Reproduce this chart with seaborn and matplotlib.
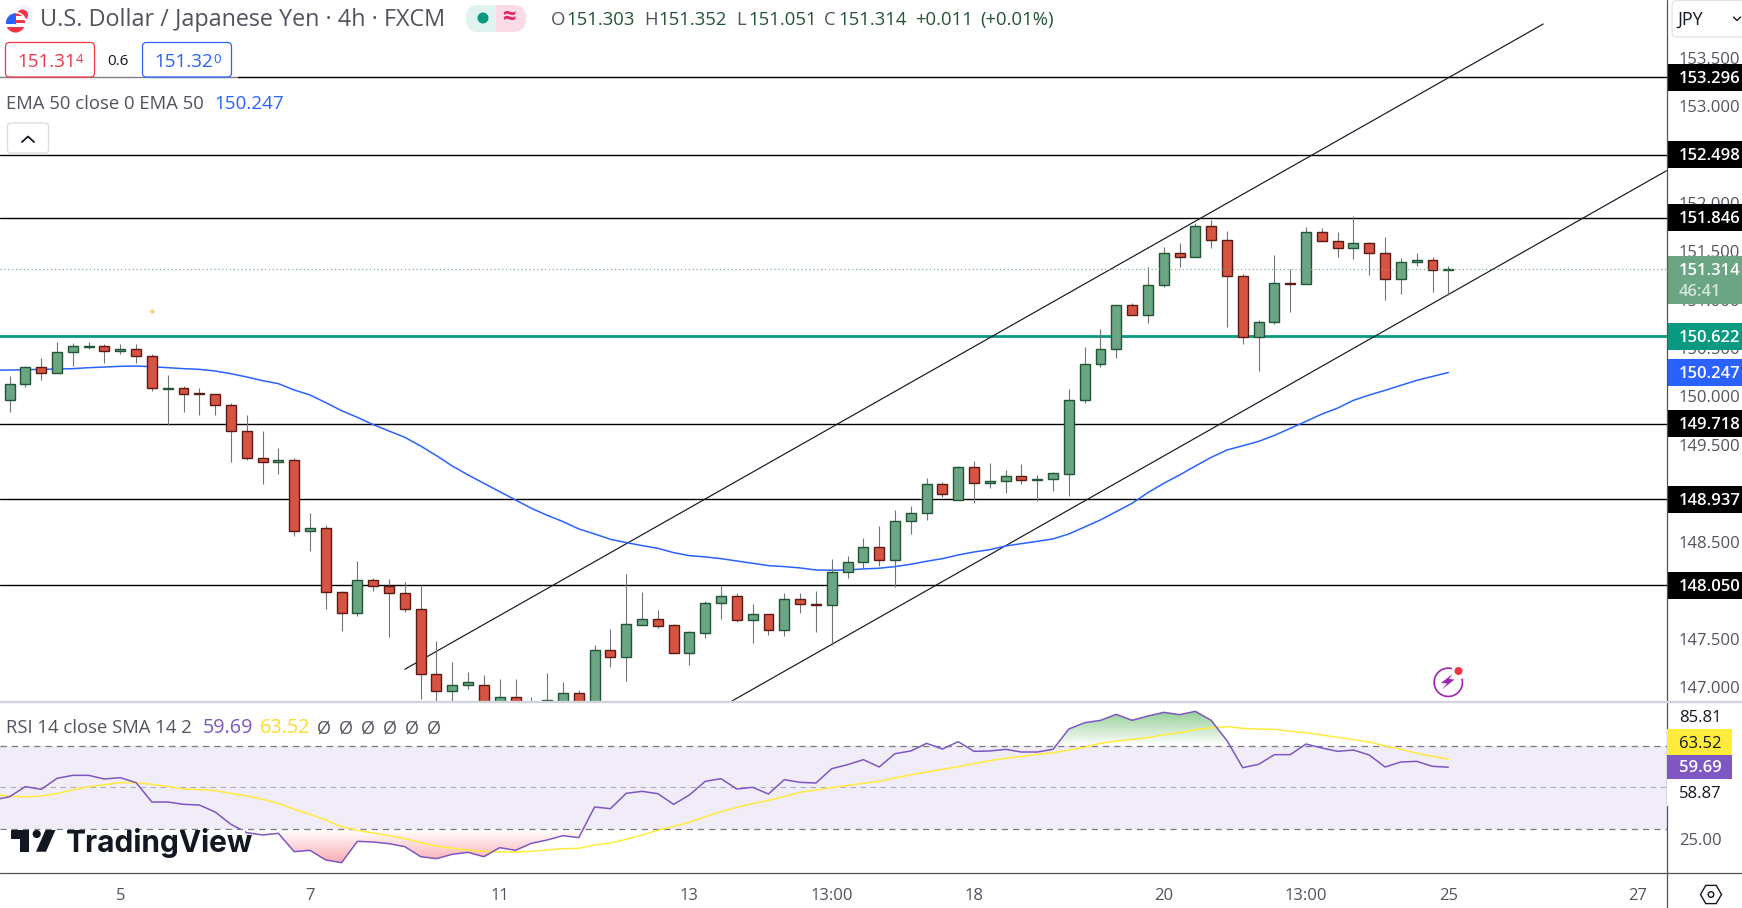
import numpy as np
import pandas as pd
import seaborn as sns
from matplotlib import pyplot as plt
from matplotlib.lines import Line2D
from matplotlib.patches import Circle, FancyBboxPatch, Polygon, Rectangle, RegularPolygon, Wedge
from matplotlib.path import Path
from matplotlib.ticker import FormatStrFormatter
from matplotlib.transforms import Affine2D

# candles, one entry per bar
OPEN = [149.960, 150.125, 150.301, 150.239, 150.455, 150.511, 150.517, 150.466, 150.486, 150.414,
        150.080, 150.084, 150.032, 150.022, 149.909, 149.640, 149.362, 149.320, 149.341, 148.608,
        148.639, 147.978, 147.761, 148.102, 148.040, 147.967, 147.802, 147.131, 146.955, 147.017,
        147.017, 146.763, 146.893, 146.814, 146.763, 146.763, 146.935, 146.763, 147.379, 147.313,
        147.644, 147.699, 147.637, 147.355, 147.561, 147.864, 147.936, 147.695, 147.751, 147.585,
        147.905, 147.854, 147.844, 148.184, 148.288, 148.442, 148.308, 148.711, 148.794, 149.093,
        148.928, 149.269, 149.103, 149.124, 149.176, 149.141, 149.145, 149.202, 149.960, 150.331,
        150.486, 150.941, 150.837, 151.147, 151.478, 151.443, 151.757, 151.612, 151.240, 150.610,
        150.765, 151.171, 151.158, 151.695, 151.602, 151.529, 151.581, 151.478, 151.209, 151.385,
        151.405, 151.303]
HIGH = [150.211, 150.314, 150.393, 150.562, 150.548, 150.562, 150.538, 150.538, 150.538, 150.435,
        150.221, 150.108, 150.087, 150.022, 149.930, 149.809, 149.644, 149.465, 149.362, 148.794,
        148.670, 147.992, 148.298, 148.122, 148.115, 148.081, 148.050, 147.472, 147.258, 147.155,
        147.121, 147.079, 147.079, 146.893, 147.145, 147.052, 146.966, 147.430, 147.599, 148.167,
        147.981, 147.795, 147.651, 147.578, 147.885, 148.047, 147.967, 147.857, 147.751, 147.971,
        147.971, 147.992, 148.319, 148.353, 148.539, 148.663, 148.828, 148.866, 149.155, 149.117,
        149.279, 149.331, 149.313, 149.241, 149.303, 149.189, 149.217, 150.073, 150.510, 150.696,
        150.941, 150.961, 151.333, 151.543, 151.584, 151.788, 151.822, 151.708, 151.261, 150.789,
        151.460, 151.312, 151.750, 151.739, 151.698, 151.863, 151.595, 151.646, 151.426, 151.478,
        151.436, 151.352]
LOW = [149.839, 150.101, 150.170, 150.239, 150.314, 150.486, 150.345, 150.442, 150.345, 150.060,
       149.705, 149.839, 149.808, 149.808, 149.327, 149.341, 149.100, 149.203, 148.563, 148.408,
       147.806, 147.582, 147.737, 147.995, 147.520, 147.775, 146.880, 146.763, 146.763, 146.983,
       146.763, 146.694, 146.694, 146.694, 146.694, 146.694, 146.694, 146.694, 147.210, 147.066,
       147.644, 147.613, 147.355, 147.227, 147.503, 147.702, 147.671, 147.458, 147.537, 147.527,
       147.768, 147.568, 147.430, 148.129, 148.229, 148.250, 148.036, 148.580, 148.725, 148.962,
       148.928, 148.904, 149.055, 149.007, 149.100, 148.924, 149.028, 148.975, 149.936, 150.307,
       150.400, 150.837, 150.762, 151.133, 151.333, 151.443, 151.536, 150.720, 150.545, 150.266,
       150.751, 150.875, 151.158, 151.602, 151.443, 151.423, 151.257, 150.999, 151.061, 151.350,
       151.082, 151.051]
CLOSE = [150.125, 150.301, 150.239, 150.455, 150.517, 150.517, 150.466, 150.486, 150.414, 150.084,
         150.087, 150.029, 150.025, 149.908, 149.640, 149.362, 149.320, 149.341, 148.608, 148.639,
         147.978, 147.761, 148.102, 148.040, 147.967, 147.802, 147.131, 146.955, 147.017, 147.048,
         146.831, 146.893, 146.763, 146.780, 146.862, 146.935, 146.763, 147.379, 147.313, 147.647,
         147.699, 147.634, 147.355, 147.565, 147.864, 147.936, 147.695, 147.751, 147.585, 147.905,
         147.854, 147.844, 148.184, 148.288, 148.442, 148.308, 148.711, 148.794, 149.093, 148.990,
         149.269, 149.103, 149.124, 149.176, 149.134, 149.145, 149.207, 149.960, 150.331, 150.486,
         150.941, 150.837, 151.147, 151.478, 151.443, 151.757, 151.612, 151.240, 150.610, 150.765,
         151.168, 151.164, 151.695, 151.602, 151.529, 151.581, 151.478, 151.209, 151.385, 151.405,
         151.302, 151.314]

# first entry of the three lines sits one bar left of the first candle
LINE_BARS = list(range(-1, 92))
EMA = [150.270, 150.273, 150.276, 150.280, 150.283, 150.287, 150.297, 150.304, 150.311, 150.314,
       150.307, 150.297, 150.287, 150.280, 150.263, 150.235, 150.201, 150.163, 150.132, 150.067,
       150.015, 149.936, 149.853, 149.784, 149.709, 149.643, 149.578, 149.488, 149.389, 149.282,
       149.189, 149.103, 149.017, 148.931, 148.845, 148.773, 148.708, 148.632, 148.580, 148.525,
       148.491, 148.460, 148.432, 148.387, 148.356, 148.343, 148.325, 148.301, 148.277, 148.253,
       148.243, 148.229, 148.208, 148.205, 148.208, 148.219, 148.226, 148.243, 148.267, 148.298,
       148.325, 148.363, 148.394, 148.418, 148.456, 148.480, 148.504, 148.529, 148.580, 148.652,
       148.725, 148.811, 148.897, 149.007, 149.103, 149.189, 149.281, 149.371, 149.447, 149.491,
       149.536, 149.598, 149.670, 149.743, 149.818, 149.880, 149.960, 150.015, 150.063, 150.115,
       150.166, 150.207, 150.247]
RSI = [43.88, 45.49, 50.31, 49.02, 54.32, 55.77, 55.77, 54.00, 54.65, 52.24,
       42.92, 42.92, 41.79, 41.47, 38.10, 32.16, 28.14, 27.01, 27.82, 18.98,
       19.63, 14.97, 13.68, 23.96, 23.64, 22.84, 21.39, 16.57, 15.61, 17.70,
       18.66, 16.57, 20.91, 19.63, 23.00, 24.61, 26.69, 25.73, 40.51, 39.71,
       47.09, 48.06, 46.93, 41.79, 46.29, 52.88, 54.16, 49.18, 49.99, 46.77,
       53.68, 52.40, 52.07, 58.98, 60.91, 63.32, 59.79, 66.21, 67.50, 71.19,
       68.46, 71.99, 67.33, 67.50, 68.30, 67.01, 67.01, 68.30, 78.09, 81.15,
       82.27, 85.16, 82.27, 84.36, 86.13, 85.00, 86.61, 82.27, 72.47, 59.46,
       61.07, 65.73, 65.73, 70.87, 68.94, 67.33, 67.97, 65.57, 59.78, 62.19,
       62.51, 60.10, 59.69]
RSI_SMA = [46.45, 45.81, 45.33, 45.81, 47.09, 48.70, 50.31, 51.27, 52.24, 52.24,
           51.43, 50.47, 49.18, 48.86, 48.38, 47.09, 45.81, 44.20, 42.28, 39.38,
           36.97, 34.24, 31.03, 29.26, 27.98, 26.69, 25.25, 23.32, 21.71, 20.59,
           19.79, 19.14, 18.82, 18.82, 19.14, 19.79, 20.43, 20.59, 22.20, 23.16,
           24.93, 27.01, 29.26, 31.19, 33.12, 35.85, 38.26, 40.35, 42.12, 43.72,
           45.49, 47.58, 48.70, 49.83, 50.95, 51.91, 52.88, 54.48, 56.09, 57.38,
           58.66, 59.95, 61.39, 62.84, 63.96, 64.92, 65.89, 66.69, 67.97, 69.26,
           71.19, 72.31, 73.12, 73.92, 75.36, 76.33, 77.77, 78.74, 79.22, 78.42,
           78.09, 77.93, 76.97, 76.33, 75.20, 74.08, 72.95, 71.83, 69.90, 68.30,
           66.37, 64.92, 63.52]

LEVELS = [153.296, 152.498, 151.846, 149.718, 148.937, 148.050]
SUPPORT = 150.622
LAST = 151.314
EMA_LAST = 150.247
CHANNEL_TOP_X = [25.0, 97.0]
CHANNEL_TOP_Y = [147.183, 153.846]
CHANNEL_LOW_X = [45.69, 104.8]
CHANNEL_LOW_Y = [146.855, 152.331]
# scale steps that the black level tags do not hide
PRICE_TICKS = [147.0, 147.5, 148.5, 149.5, 150.0, 150.5, 151.0, 151.5, 152.0, 153.0, 153.5]
TICK_BARS = [7, 19, 31, 43, 52, 61, 73, 82, 91, 103]
TICK_LABELS = ["5", "7", "11", "13", "13:00", "18", "20", "13:00", "25", "27"]

W, H = 1742, 908
UP, UP_EDGE = "#6ba583", "#225437"
DOWN, DOWN_EDGE = "#d75442", "#5b1a13"
WICK = "#737375"
BLUE = "#2962ff"
TEAL = "#089981"
PURPLE = "#7e57c2"
YELLOW = "#ffeb3b"
GREY = "#50535e"
FONT = ["Open Sans", "DejaVu Sans"]

sns.set_theme(style="white")
plt.rcParams["font.family"] = FONT

fig = plt.figure(figsize=(W / 100, H / 100), dpi=100, facecolor="white")
# pixel coordinates, y counted from the top of the picture
PX = Affine2D().scale(1, -1).translate(0, H)


def pane(top, bottom):
    return fig.add_axes([0, 1 - bottom / H, 1666.5 / W, (bottom - top) / H])


def label_text(x, y, s, color="#131722", size=12, **kw):
    # open sans sits a little high when centred on its full line box
    fig.text(x, y + 1.8, s, transform=PX, color=color, fontsize=size, va="center", zorder=12, **kw)


def box(x, y, w, h, round_to=0, face="white", edge="none", lw=1, zorder=10, alpha=None):
    style = f"round,pad=0,rounding_size={round_to}" if round_to else "square,pad=0"
    p = FancyBboxPatch((x, y), w, h, boxstyle=style, transform=PX, facecolor=face, edgecolor=edge,
                       linewidth=lw, zorder=zorder, alpha=alpha)
    fig.add_artist(p)
    return p


def fade_fill(ax, x, y, level, peak, rgb, strength, where):
    shade = ax.fill_between(x, y, level, where=where, interpolate=True, facecolor="none", edgecolor="none")
    clip = Path.make_compound_path(*shade.get_paths())
    rgba = np.zeros((64, 1, 4))
    rgba[..., :3] = rgb
    rgba[..., 3] = np.linspace(0, strength, 64)[:, None]
    low, high = sorted([level, peak])
    if peak < level:
        rgba = rgba[::-1]
    img = ax.imshow(rgba, extent=[x[0], x[-1], low, high], origin="lower", aspect="auto", zorder=1.5)
    img.set_clip_path(clip, transform=ax.transData)


ax = pane(0, 701)
frame = pd.DataFrame({"bar": range(len(OPEN)), "open": OPEN, "high": HIGH, "low": LOW, "close": CLOSE})
frame["rising"] = frame["close"] >= frame["open"]
lines = pd.DataFrame({"bar": LINE_BARS, "ema": EMA, "rsi": RSI, "sma": RSI_SMA})

for level in LEVELS:
    ax.axhline(level, color="black", lw=1.0, zorder=1)
ax.axhline(SUPPORT, color=TEAL, lw=2.0, zorder=1)
ax.plot(CHANNEL_TOP_X, CHANNEL_TOP_Y, color="#131722", lw=0.85, zorder=1.2)
ax.plot(CHANNEL_LOW_X, CHANNEL_LOW_Y, color="#131722", lw=0.85, zorder=1.2)
sns.lineplot(data=lines, x="bar", y="ema", ax=ax, color=BLUE, lw=1.1, estimator=None, sort=False, zorder=1.4)

ax.vlines(frame["bar"], frame["low"], frame["high"], color=WICK, lw=0.8, zorder=2)
ax.bar(frame["bar"], (frame["close"] - frame["open"]).abs(), bottom=frame[["open", "close"]].min(axis=1),
       width=0.63, color=[UP if r else DOWN for r in frame["rising"]],
       edgecolor=[UP_EDGE if r else DOWN_EDGE for r in frame["rising"]], linewidth=1.0, zorder=3)
ax.axhline(LAST, color=UP, lw=0.8, ls=(0, (1, 2.5)), zorder=3.5)
ax.plot([9], [150.88], marker="o", ms=2, color="#ffcc66", zorder=3)

ax.set_xlim(-0.607, 104.8)
ax.set_ylim(146.855, 154.094)
ax.set_xlabel("")
ax.set_ylabel("")
ax.xaxis.set_visible(False)
ax.yaxis.tick_right()
ax.set_yticks(PRICE_TICKS)
ax.yaxis.set_major_formatter(FormatStrFormatter("%.3f"))
ax.tick_params(axis="y", length=0, pad=8.8, labelsize=12, labelcolor=GREY)
sns.despine(ax=ax, left=True, bottom=True, right=True, top=True)

# value tags on the price scale
tag_x = ax.get_yaxis_transform()
tag_h = 26.7 / 96.84
text_drop = 1.3 / 96.84
for value, face in [(v, "black") for v in LEVELS] + [(SUPPORT, TEAL), (EMA_LAST, BLUE)]:
    ax.add_patch(Rectangle((1.0, value - tag_h / 2), 76 / 1666.5, tag_h, transform=tag_x, facecolor=face,
                           edgecolor="none", clip_on=False, zorder=5))
    ax.text(1 + 12.2 / 1666.5, value - text_drop, f"{value:.3f}", transform=tag_x, color="white", fontsize=12,
            fontweight="semibold", va="center", clip_on=False, zorder=6)
ax.add_patch(Rectangle((1.0, LAST - 34.4 / 96.84), 76 / 1666.5, 47.7 / 96.84, transform=tag_x, facecolor=UP,
                       edgecolor="none", clip_on=False, zorder=5))
ax.text(1 + 12.2 / 1666.5, LAST - text_drop, f"{LAST:.3f}", transform=tag_x, color="white", fontsize=12,
        fontweight="semibold", va="center", clip_on=False, zorder=6)
ax.text(1 + 12.2 / 1666.5, LAST - 21.4 / 96.84 - text_drop, "46:41", transform=tag_x, color="#d5e5db", fontsize=12,
        fontweight="semibold", va="center", clip_on=False, zorder=6)

rsi_ax = pane(703, 873)
rsi_ax.axhspan(30, 70, color=PURPLE, alpha=0.11, lw=0, zorder=0.5)
rsi_ax.axhline(70, color="#787b86", lw=0.9, ls=(0, (5, 4)), zorder=1)
rsi_ax.axhline(50, color="#787b86", lw=0.8, ls=(0, (5, 4)), alpha=0.55, zorder=1)
rsi_ax.axhline(30, color="#787b86", lw=0.9, ls=(0, (5, 4)), zorder=1)

bars = lines["bar"].to_numpy(dtype=float)
rsi = lines["rsi"].to_numpy()
fade_fill(rsi_ax, bars, rsi, 70, 86.61, (76 / 255, 175 / 255, 80 / 255), 0.6, rsi > 70)
fade_fill(rsi_ax, bars, rsi, 30, 13.68, (242 / 255, 54 / 255, 69 / 255), 0.42, rsi < 30)
sns.lineplot(data=lines, x="bar", y="sma", ax=rsi_ax, color=YELLOW, lw=1.1, estimator=None, sort=False, zorder=2)
sns.lineplot(data=lines, x="bar", y="rsi", ax=rsi_ax, color=PURPLE, lw=1.1, estimator=None, sort=False, zorder=2.2)

rsi_ax.set_xlim(-0.607, 104.8)
rsi_ax.set_ylim(8.70, 90.63)
rsi_ax.set_xlabel("")
rsi_ax.set_ylabel("")
rsi_ax.set_xticks(TICK_BARS)
rsi_ax.set_xticklabels(TICK_LABELS)
rsi_ax.yaxis.tick_right()
rsi_ax.set_yticks([25])
rsi_ax.set_yticklabels(["25.00"])
rsi_ax.tick_params(axis="y", length=0, pad=8.8, labelsize=12, labelcolor=GREY)
rsi_ax.tick_params(axis="x", length=0, pad=11, labelsize=12, labelcolor=GREY)
sns.despine(ax=rsi_ax, left=True, bottom=True, right=True, top=True)

# scale frame and pane separators
fig.add_artist(Line2D([1666.5, 1666.5], [0, H], transform=PX, color=GREY, lw=0.9, zorder=4))
fig.add_artist(Line2D([0, W], [873.3, 873.3], transform=PX, color=GREY, lw=0.9, zorder=4))
fig.add_artist(Line2D([0, W], [701.8, 701.8], transform=PX, color="#d1d4dc", lw=1.7, zorder=4))

# header
box(0, 36, 238, 44, face="white", alpha=0.5, zorder=5)
fig.add_artist(Circle((24, 13.5), 8.8, transform=PX, facecolor="#f0f3fa", edgecolor="none", zorder=10))
fig.add_artist(Circle((22.5, 15), 5.5, transform=PX, facecolor="#f23645", edgecolor="none", zorder=10.1))
fig.add_artist(Circle((15.5, 23), 11.2, transform=PX, facecolor="white", edgecolor="none", zorder=10.2))
us = Circle((15.5, 23), 9.6, transform=PX, facecolor="white", edgecolor="none", zorder=10.3)
fig.add_artist(us)
for rect, color in [((5, 12, 22, 4), "#f23645"), ((5, 20, 22, 3), "#f23645"), ((5, 27, 22, 7), "#f23645"),
                    ((5, 12, 11, 12), BLUE)]:
    stripe = Rectangle(rect[:2], rect[2], rect[3], transform=PX, facecolor=color, edgecolor="none", zorder=10.4)
    fig.add_artist(stripe)
    stripe.set_clip_path(us)

label_text(39.5, 18, "U.S. Dollar / Japanese Yen · 4h · FXCM", color=GREY, size=16.8)
pill = box(466, 5, 60, 27, round_to=13, face="#fbdce6", zorder=10)
pill_left = Rectangle((466, 5), 30, 27, transform=PX, facecolor="#dff3ef", edgecolor="none", zorder=10.1)
fig.add_artist(pill_left)
pill_left.set_clip_path(pill)
fig.add_artist(Circle((483, 18), 5.5, transform=PX, facecolor=TEAL, edgecolor="none", zorder=11))
label_text(510, 17, "≈", color="#e91e63", size=17, ha="center", fontweight="bold")

for x, prefix, value, gap in [(550.7, "O", "151.303", 15.5), (643.8, "H", "151.352", 14.5),
                              (735.9, "L", "151.051", 12), (823.8, "C", "151.314", 14.5)]:
    label_text(x, 18, prefix, color=GREY, size=13.3)
    label_text(x + gap, 18, value, color=UP_EDGE, size=13.3)
label_text(915, 18, "+0.011", color=UP_EDGE, size=13.3)
label_text(980, 18, "(+0.01%)", color=UP_EDGE, size=13.3)

box(5.5, 42.5, 89, 34.5, round_to=4, edge="#f23645", lw=0.9)
label_text(17, 60, "151.31", color="#f23645", size=13.6)
label_text(76, 58, "4", color="#f23645", size=9.5)
label_text(107, 60, "0.6", color="#131722", size=11)
box(142.5, 42.5, 89, 34.5, round_to=4, edge=BLUE, lw=0.9)
label_text(154.5, 60, "151.32", color=BLUE, size=13.6)
label_text(213.5, 58, "0", color=BLUE, size=9.5)
label_text(6.5, 102, "EMA 50 close 0 EMA 50", color=GREY, size=13.3)
label_text(214, 102, "150.247", color=BLUE, size=13.6)
box(7.5, 123, 41, 30, round_to=3, edge="#d9dbe2", lw=0.9)
fig.add_artist(Line2D([22, 28, 34], [142, 136.5, 142], transform=PX, color="#131722", lw=1.3, zorder=11))

# currency selector
box(1672, 0.5, 90, 36.5, round_to=5, edge="#e0e3eb", lw=0.9)
label_text(1677, 18, "JPY", color="#131722", size=13)
fig.add_artist(Line2D([1733.5, 1737, 1740.5], [17, 20.5, 17], transform=PX, color="#131722", lw=1.0, zorder=11))

# rsi legend and scale tags
for x, text, color, size in [(6.5, "RSI 14 close SMA 14 2", GREY, 13.3), (203, "59.69", PURPLE, 14.2),
                             (259.5, "63.52", "#fbdc2b", 14.2)]:
    label_text(x, 726.5, text, color=color, size=size)
for i in range(6):
    label_text(317 + i * 22, 726.5, "Ø", color=GREY, size=13)

box(1666.5, 779, 75.5, 27, face="white", zorder=9)
box(1666.5, 729, 65, 25.7, face="#ffeb3b", zorder=9)
box(1666.5, 754.7, 65, 24.6, face=PURPLE, zorder=9)
label_text(1678.7, 715.7, "85.81", size=12)
label_text(1678.7, 741.7, "63.52", size=12)
label_text(1678.7, 766.7, "59.69", color="white", size=12, fontweight="semibold")
label_text(1678.7, 792, "58.87", size=12)

# TradingView mark
box(0, 829.5, 245, 42, face="white", zorder=7)
LOGO = "#131722"
fig.add_artist(Polygon([(11, 830), (29, 830), (29, 851.7), (20, 851.7), (20, 838.5), (11, 838.5)], transform=PX,
                       facecolor=LOGO, edgecolor="none", zorder=8))
fig.add_artist(Circle((36.7, 834), 4.1, transform=PX, facecolor=LOGO, edgecolor="none", zorder=8))
fig.add_artist(Polygon([(45.5, 830), (55.5, 830), (46, 851.7), (36, 851.7)], transform=PX, facecolor=LOGO,
                       edgecolor="none", zorder=8))
fig.text(65.5, 843.5, "TradingView", transform=PX, color=LOGO, fontsize=21.5, fontweight="bold",
         fontfamily=["Inter", "DejaVu Sans"], va="center", zorder=8)

# alert badge
MAGENTA = "#9c27b0"
fig.add_artist(Wedge((1448.3, 682.3), 15, -15, 285, width=1.7, transform=PX, facecolor=MAGENTA, edgecolor="none",
                     zorder=8))
fig.add_artist(Polygon([(1452.5, 674), (1441, 683), (1447, 683.5), (1442, 689.5), (1454.5, 679.5), (1449, 679)],
                       transform=PX, facecolor=MAGENTA, edgecolor="none", zorder=8))
fig.add_artist(Circle((1458.5, 671), 4, transform=PX, facecolor="#f23645", edgecolor="none", zorder=9))

# settings glyph
fig.add_artist(RegularPolygon((1711, 894.5), 6, radius=10.5, orientation=np.pi / 6, transform=PX, facecolor="none",
                              edgecolor="#131722", lw=1.0, zorder=8))
fig.add_artist(Circle((1711, 894.5), 2.8, transform=PX, facecolor="none", edgecolor="#131722", lw=1.0, zorder=8))

fig.savefig("out.png", dpi=100)
